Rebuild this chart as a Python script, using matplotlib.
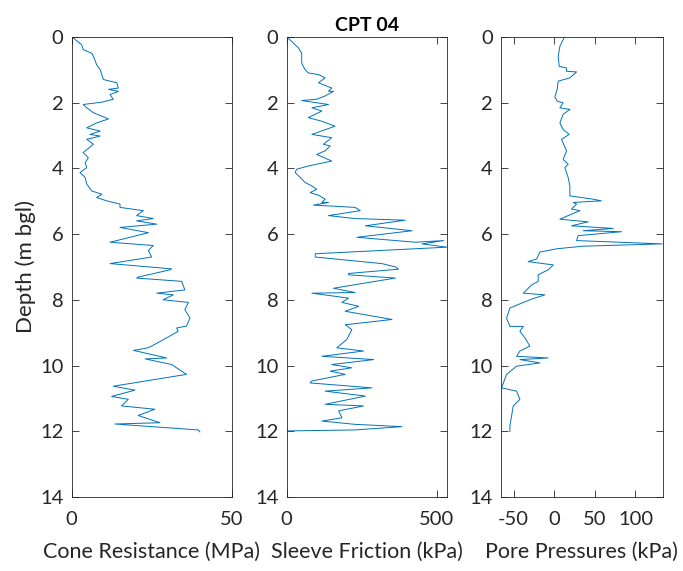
import matplotlib
matplotlib.use("Agg")
import matplotlib.pyplot as plt

plt.rcParams['font.family'] = ['Lato', 'DejaVu Sans']
plt.rcParams['axes.unicode_minus'] = False

# Cone resistance (MPa) vs depth (m)
qc_depth = [0, 0.24, 0.39, 0.5, 0.6, 0.85, 1.0, 1.15, 1.3, 1.4, 1.56, 1.6, 1.66, 1.76, 1.9, 1.99,
            2.06, 2.16, 2.31, 2.5, 2.62, 2.77, 2.87, 2.97, 3.02, 3.12, 3.27, 3.52, 3.68, 3.83, 3.98,
            4.13, 4.28, 4.48, 4.69, 4.79, 4.89, 4.99, 5.09, 5.19, 5.29, 5.44, 5.53, 5.6, 5.7, 5.8,
            5.96, 6.1, 6.25, 6.35, 6.5, 6.7, 6.9, 7.06, 7.09, 7.31, 7.34, 7.44, 7.7, 7.8, 7.85, 8.0,
            8.08, 8.3, 8.56, 8.8, 8.86, 8.96, 9.16, 9.46, 9.54, 9.77, 9.8, 9.97, 10.27, 10.63,
            10.75, 10.94, 11.03, 11.23, 11.33, 11.52, 11.74, 11.78, 11.96, 12.02]
qc_value = [0, 3.1, 3.6, 6.25, 6.8, 7.8, 8.9, 9.4, 9.9, 14.1, 14.6, 11.5, 14.6, 12, 13, 9.4,
            3.6, 4.7, 6.8, 11.5, 7.8, 4.7, 8.9, 5.7, 8.9, 4.7, 6.8, 3.6, 5.2, 4.2, 4.7,
            2.6, 4.2, 4.7, 6.25, 9.4, 7.8, 10.9, 15.1, 15.1, 22.4, 20.3, 25.5, 20.3, 26.6, 15.1,
            24, 18.2, 12, 25.5, 24, 25, 12, 31.25, 30.7, 20.8, 20.3, 34.4, 35.4, 26.6, 31.8, 28.6,
            36.5, 35.4, 37, 35.9, 32.8, 33.3, 29.7, 24, 19.3, 29.7, 23, 31.25, 35.9, 13,
            19.8, 12.5, 17.7, 15.6, 26, 20.8, 27.6, 13.5, 39.6, 40.1]

# Sleeve friction (kPa) vs depth (m)
fs_depth = [0, 0.19, 0.34, 0.5, 0.8, 1.0, 1.1, 1.15, 1.25, 1.4, 1.56, 1.66, 1.66, 1.8, 1.9, 1.94,
            2.06, 2.16, 2.26, 2.46, 2.57, 2.72, 2.97, 3.07, 3.27, 3.32, 3.47, 3.58, 3.78, 3.93,
            4.03, 4.13, 4.28, 4.43, 4.54, 4.64, 4.74, 4.82, 4.94, 5.04, 5.04, 5.12, 5.19, 5.29,
            5.44, 5.53, 5.58, 5.75, 5.9, 6.1, 6.25, 6.2, 6.3, 6.4, 6.6, 6.7, 6.9, 7.0, 7.07, 7.2,
            7.24, 7.34, 7.65, 7.78, 7.8, 7.95, 8.08, 8.2, 8.35, 8.6, 8.76, 8.91, 9.21, 9.46, 9.56,
            9.72, 9.82, 9.97, 10.07, 10.17, 10.27, 10.47, 10.53, 10.68, 10.78, 10.93, 11.18,
            11.23, 11.38, 11.59, 11.69, 11.79, 11.86, 11.96, 11.99]
fs_value = [0, 22, 39, 50, 50, 61, 72, 106, 128, 106, 150, 139, 156, 128, 100, 50,
            139, 84, 117, 72, 117, 161, 84, 150, 122, 145, 128, 100, 150, 72,
            33, 28, 45, 61, 84, 100, 78, 106, 128, 117, 139, 89, 228, 245,
            139, 228, 395, 262, 418, 234, 429, 523, 451, 534, 95, 95, 317, 362, 373, 206,
            206, 362, 156, 228, 84, 206, 184, 240, 195, 351, 195, 217, 200, 167, 256,
            117, 290, 150, 217, 145, 195, 84, 78, 284, 128, 262, 128,
            256, 173, 184, 117, 228, 384, 228, 0]

# Pore pressure (kPa) vs depth (m)
u_depth = [0.02, 0.29, 0.6, 0.9, 0.95, 1.05, 1.07, 1.25, 1.35, 1.6, 1.83, 1.96, 2.01, 2.16, 2.21,
           2.36, 2.62, 2.82, 2.97, 3.12, 3.47, 3.73, 3.88, 3.98, 4.28, 4.54, 4.84, 4.94, 4.99,
           5.04, 5.09, 5.24, 5.29, 5.44, 5.55, 5.63, 5.75, 5.83, 5.9, 5.93, 6.05, 6.2, 6.3, 6.37,
           6.45, 6.55, 6.76, 6.84, 6.94, 7.09, 7.24, 7.44, 7.55, 7.8, 7.85, 8.0, 8.25, 8.56,
           8.81, 8.81, 8.96, 9.16, 9.41, 9.56, 9.72, 9.77, 9.82, 9.92, 10.02, 10.27, 10.68,
           10.78, 11.03, 11.23, 11.54, 11.84, 12.01]
u_value = [12.3, 7, 4.9, 6.2, 15.2, 15.2, 27.5, 19.3, 4.9, 3.7, 0.8, 3.7, 11, 7, 19.3,
           11, 7, 11, 18.4, 9, 15.2, 11, 17.2, 13.1, 17.2, 19.3, 19.3, 48, 58,
           23.4, 27.5, 21.3, 31.6, 17.2, 7, 41.8, 21.3, 72.6, 35.7, 82.8, 29.5, 27.5, 133, 35.7,
           2.9, -17.6, -21.7, -32, -1.2, -7.4, -19.7, -19.7, -27.9, -38, -11.5, -30, -54.5, -58.6,
           -54.5, -38, -42.2, -36, -30, -42.2, -46.3, -7.4, -42.2, -17.6, -46.3, -58.6, -64.8,
           -46.3, -42.2, -50.4, -52.5, -54.5, -54.5]

xlabels = ["Cone Resistance (MPa)", "Sleeve Friction (kPa)", "Pore Pressures (kPa)"]
xlims = [(0, 50), (0, 535), (-65.5, 133.5)]
xticks = [[0, 50], [0, 500], [-50, 0, 50, 100]]
yticks = [0, 2, 4, 6, 8, 10, 12, 14]

fig = plt.figure(figsize=(6.83, 5.71), dpi=100)
lefts = [0.105, 0.4198, 0.7335]
widths = [0.234, 0.235, 0.2367]
axc = '#262626'
line_color = '#0072BD'
series = [(qc_value, qc_depth), (fs_value, fs_depth), (u_value, u_depth)]
for i in range(3):
    ax = fig.add_axes([lefts[i], 0.1296, widths[i], 0.806])
    x, y = series[i]
    ax.plot(x, y, color=line_color, lw=0.7)
    ax.set_xlim(*xlims[i])
    ax.set_ylim(14, 0)
    ax.set_xticks(xticks[i])
    ax.set_yticks(yticks)
    ax.tick_params(direction='in', top=True, right=True, length=5, width=0.6,
                   color=axc, labelcolor=axc, labelsize=14.5)
    ax.tick_params(axis='x', pad=10)
    ax.tick_params(axis='y', pad=6)
    for s in ax.spines.values():
        s.set_color(axc)
        s.set_linewidth(0.6)
    ax.set_xlabel(xlabels[i], fontsize=15.5, color=axc, labelpad=10)
    if i == 0:
        ax.set_ylabel("Depth (m bgl)", fontsize=16, color=axc, labelpad=3)
    if i == 1:
        ax.set_title("CPT 04", fontsize=14, fontweight='bold', color='black', pad=4)

fig.savefig("out.png", dpi=100)
